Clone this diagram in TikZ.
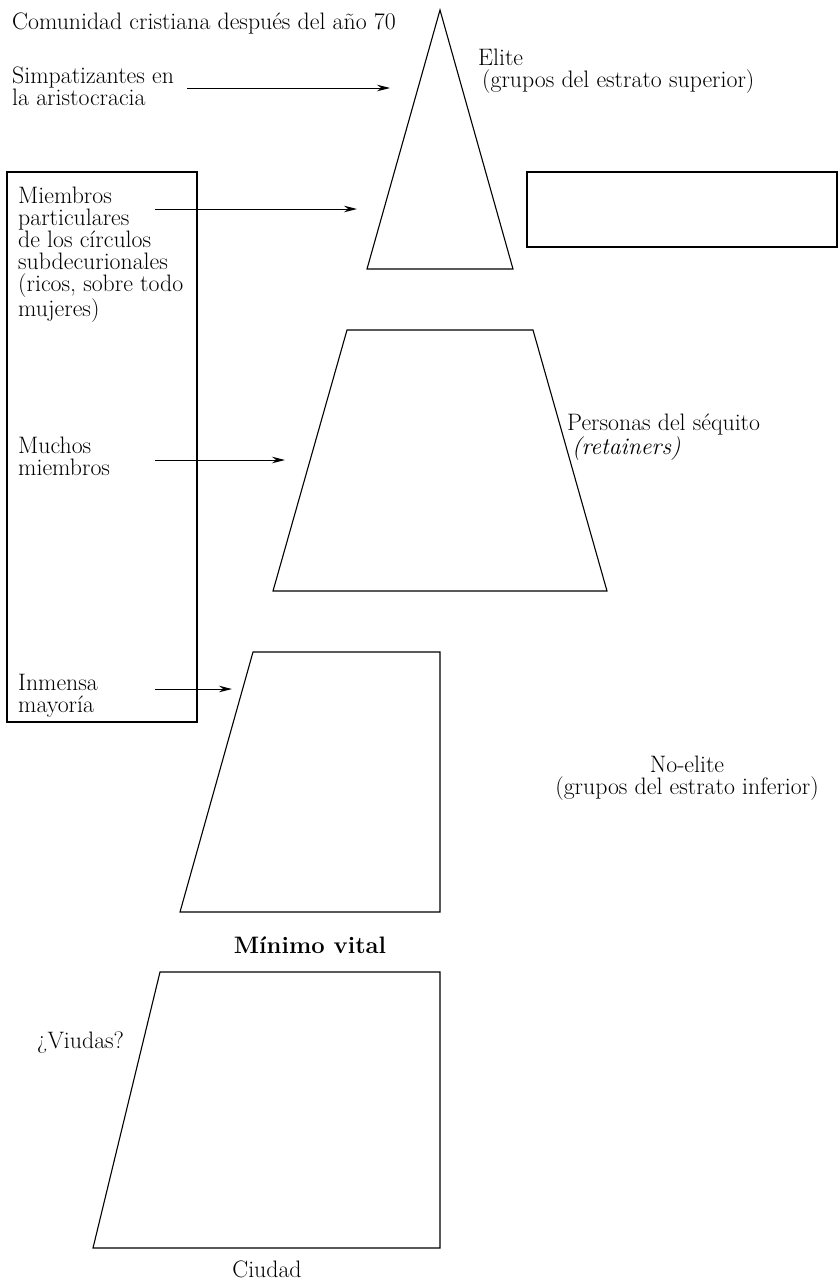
\documentclass[tikz,border=0pt]{standalone}
\usetikzlibrary{arrows.meta}

\begin{document}
\begin{tikzpicture}[
    x=1pt, y=-1pt,
    lbl/.style={font=\fontsize{23.8}{22}\selectfont, inner sep=0pt, align=left, anchor=base west},
    ctr/.style={font=\fontsize{23.8}{22}\selectfont, inner sep=0pt, align=center, anchor=base},
    stratum/.style={draw, line width=1.1pt, line join=miter},
    arrow/.style={-{Stealth[length=13pt,width=6.5pt]}, line width=1pt}
]
    \useasboundingbox (0,0) rectangle (839,1282);

    % Left column (base = last line)
    \node[lbl] (title) at (12,29) {Comunidad cristiana después del año 70};
    \node[lbl] (simp) at (12,105) {Simpatizantes en\\la aristocracia};
    \node[lbl] (miem) at (18,316) {Miembros\\particulares\\de los círculos\\subdecurionales\\(ricos, sobre todo\\mujeres)};
    \node[lbl] (muchos) at (18,475) {Muchos\\miembros};
    \node[lbl] (inmensa) at (18,712) {Inmensa\\mayoría};
    \draw[stratum] (7,172) rectangle (197,722);

    % Strata
    \draw[stratum] (440,10) -- (513,269) -- (367,269) -- cycle;
    \draw[stratum] (527,172) rectangle (837,247);
    \draw[stratum] (347,330) -- (533,330) -- (607,591) -- (273,591) -- cycle;
    \draw[stratum] (253,652) -- (440,652) -- (440,912) -- (180,912) -- cycle;
    \draw[stratum] (160,972) -- (440,972) -- (440,1248) -- (93,1248) -- cycle;

    % Right labels
    \node[lbl] (elite) at (478,87) {Elite\\\hspace*{4pt}(grupos del estrato superior)};
    \node[lbl] (personas) at (567,454) {Personas del séquito\\\hspace*{5pt}\textit{(retainers)}};
    \node[ctr] (noelite) at (687,794) {No-elite\\(grupos del estrato inferior)};
    \node[ctr, font=\fontsize{23.8}{22}\selectfont\bfseries] (minimo) at (310,953) {Mínimo vital};
    \node[lbl] (viudas) at (37,1048) {¿Viudas?};
    \node[ctr] (ciudad) at (267,1277) {Ciudad};

    % Arrows
    \coordinate (simpA) at (187,88);   \coordinate (simpB) at (390,88);
    \coordinate (miemA) at (155,209);  \coordinate (miemB) at (357,209);
    \coordinate (muchA) at (155,460);  \coordinate (muchB) at (285,460);
    \coordinate (inmA) at (155,689);   \coordinate (inmB) at (232,689);
    \draw[arrow] (simpA) -- (simpB);
    \draw[arrow] (miemA) -- (miemB);
    \draw[arrow] (muchA) -- (muchB);
    \draw[arrow] (inmA) -- (inmB);
\end{tikzpicture}
\end{document}
